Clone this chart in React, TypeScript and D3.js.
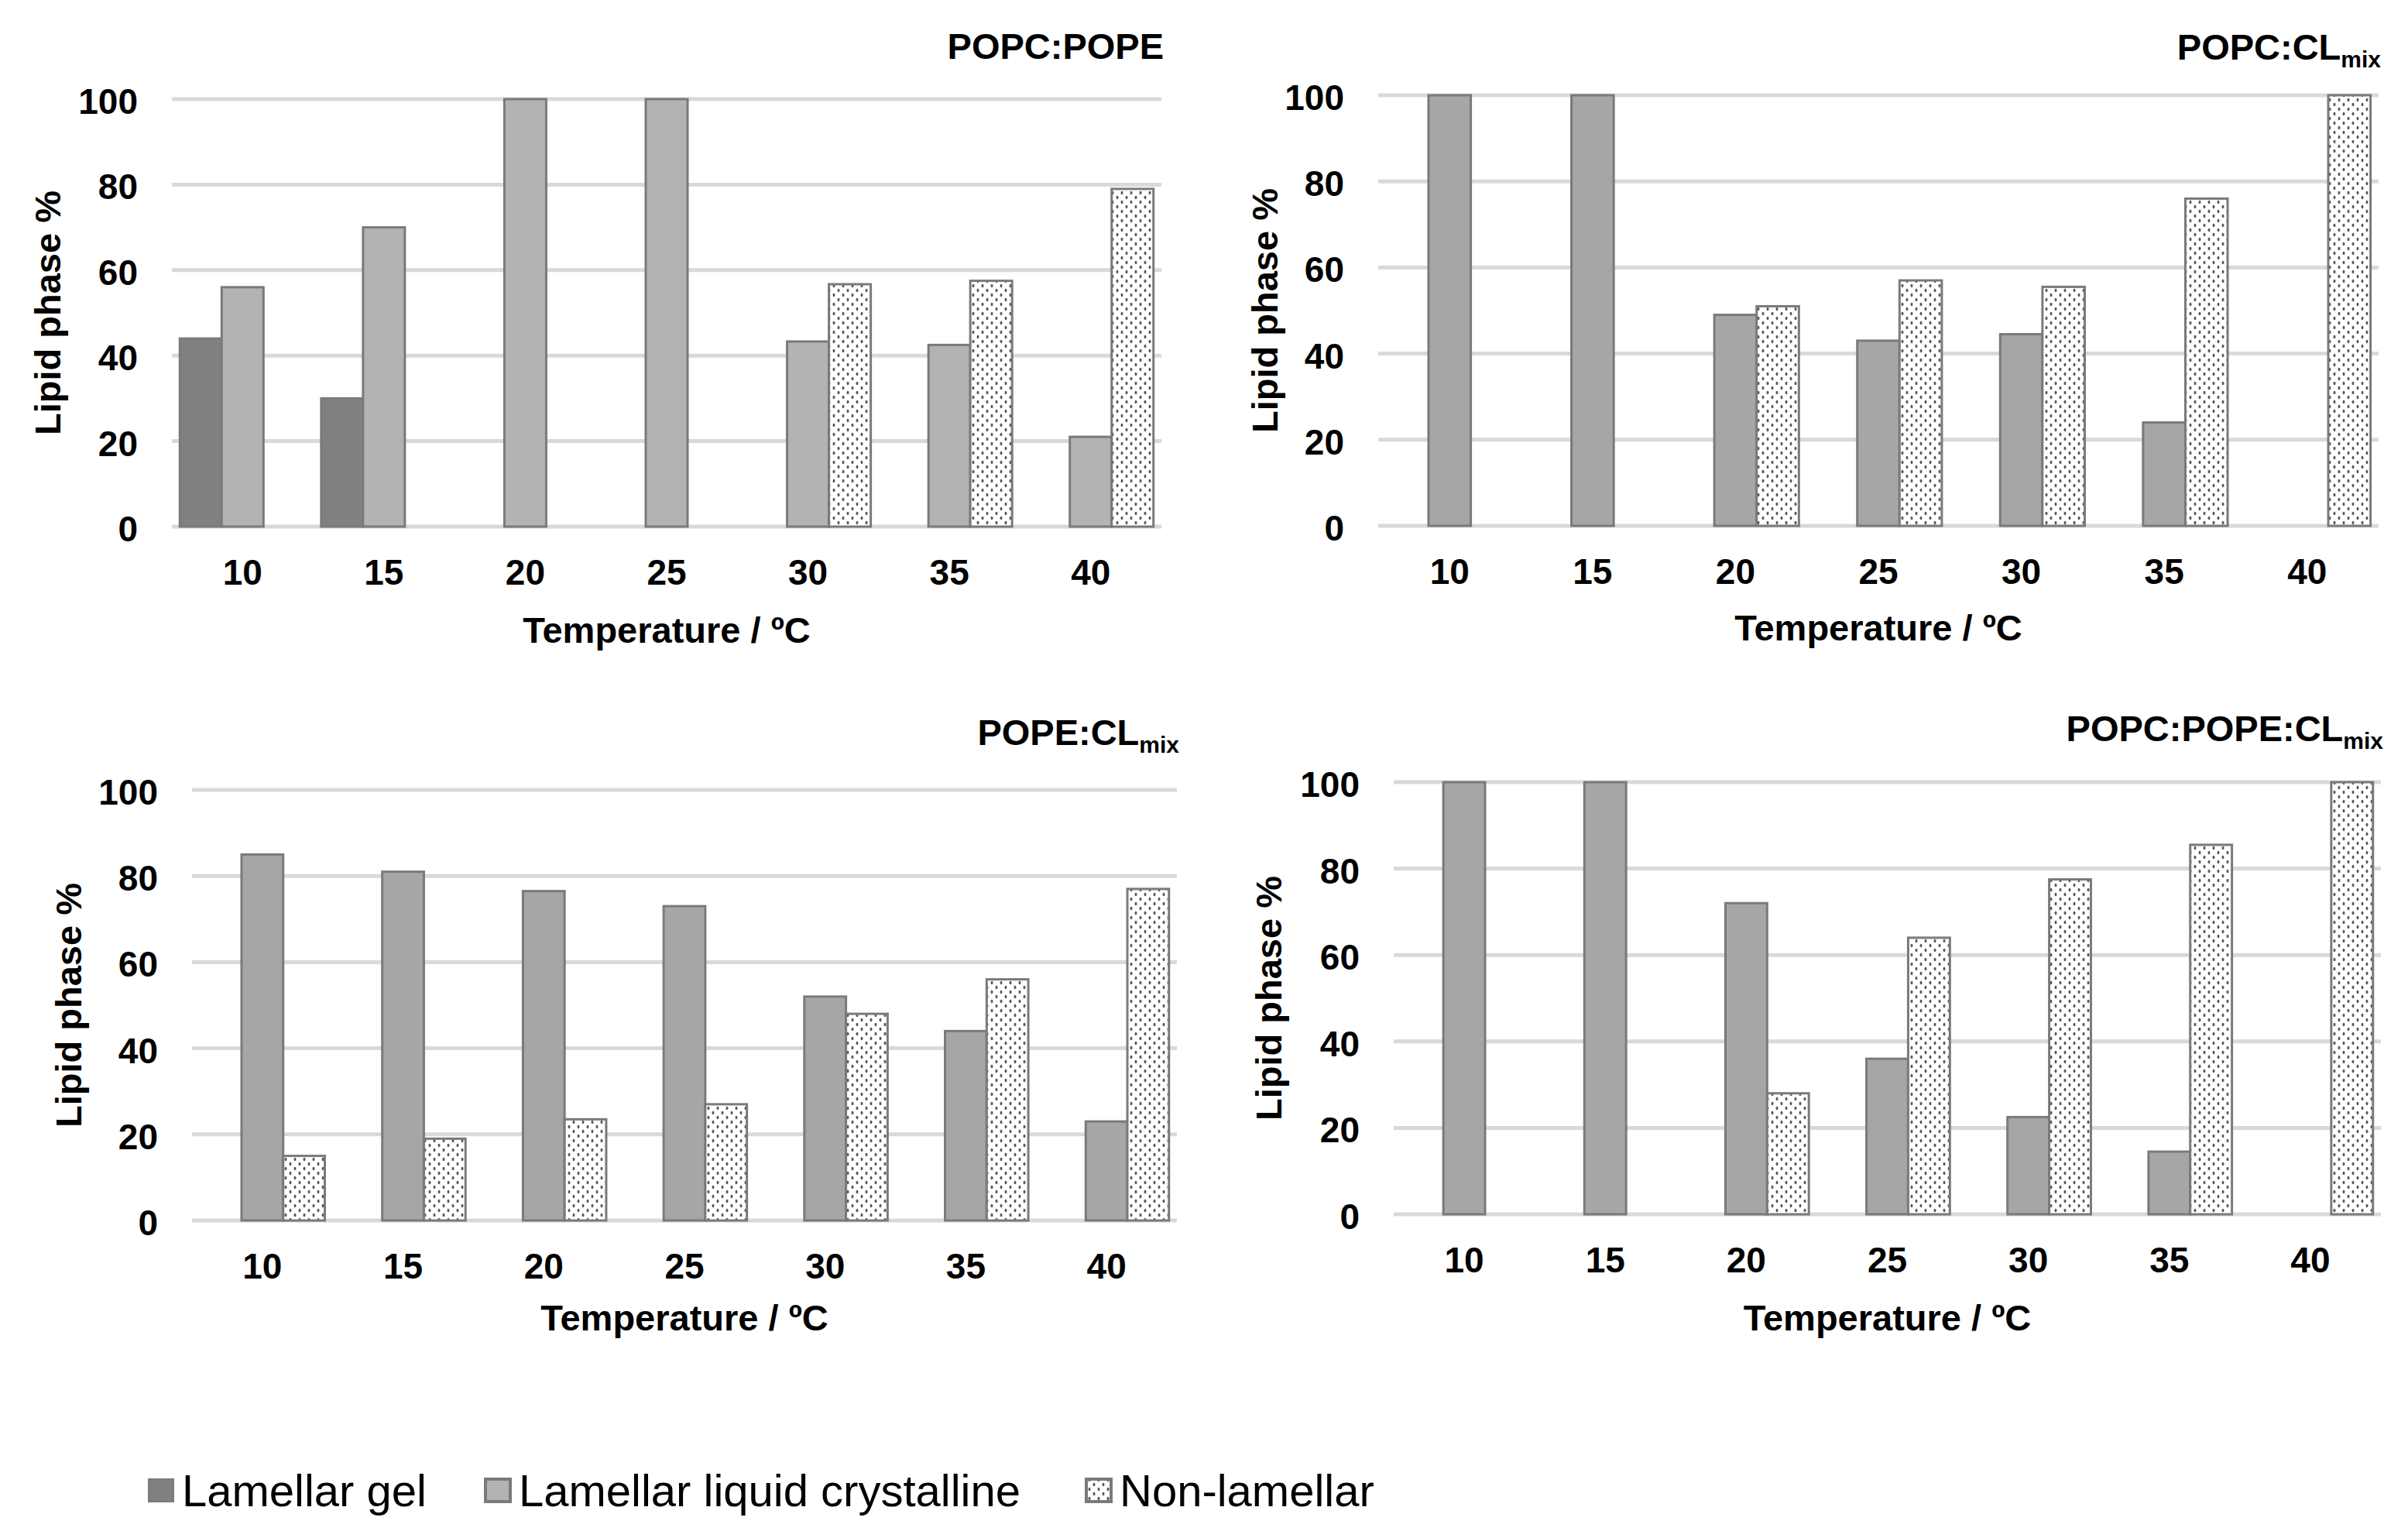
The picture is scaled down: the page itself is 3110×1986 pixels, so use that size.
import * as d3 from "d3";

const temps = ["10", "15", "20", "25", "30", "35", "40"];
const series = ["gel", "lc", "nl"];
const legendLabels = ["Lamellar gel", "Lamellar liquid crystalline", "Non-lamellar"];
const yTicks = [0, 20, 40, 60, 80, 100];

// POPC:POPE
const popcPopeGel = [44, 30, null, null, null, null, null];
const popcPopeLC = [56, 70, 100, 100, 43.3, 42.5, 21];
const popcPopeNL = [null, null, null, null, 56.7, 57.5, 79];

// POPC:CLmix
const popcClLC = [100, 100, 49, 43, 44.5, 24, null];
const popcClNL = [null, null, 51, 57, 55.5, 76, 100];

// POPE:CLmix
const popeClLC = [85, 81, 76.5, 73, 52, 44, 23];
const popeClNL = [15, 19, 23.5, 27, 48, 56, 77];

// POPC:POPE:CLmix
const allLC = [100, 100, 72, 36, 22.5, 14.5, null];
const allNL = [null, null, 28, 64, 77.5, 85.5, 100];

const FONT = "'Liberation Sans', Arial, sans-serif";

type PanelProps = {
  left: number;
  right: number;
  top: number;
  bottom: number;
  title: string;
  sub?: string;
  titleY: number;
  yTitleX: number;
  xTitleY: number;
  values: (number | null)[][];
  fills: string[];
};

const Panel = ({ left, right, top, bottom, title, sub, titleY, yTitleX, xTitleY, values, fills }: PanelProps) => {
  const x0 = d3.scaleBand().domain(temps).range([left, right]).padding(0);
  const x1 = d3
    .scaleBand()
    .domain(series)
    .range([0, x0.bandwidth()])
    .paddingInner(0)
    .paddingOuter(0.19);
  const y = d3.scaleLinear().domain([0, 100]).range([bottom, top]);

  return (
    <g>
      {yTicks.map((t) => (
        <g key={t}>
          <line x1={left} x2={right} y1={y(t)} y2={y(t)} stroke="#d9d9d9" strokeWidth={5} />
          <text
            x={left - 44}
            y={y(t) + 19}
            textAnchor="end"
            fontSize={46}
            fontWeight="bold"
            fontFamily={FONT}
          >
            {t}
          </text>
        </g>
      ))}
      {series.map((s, si) =>
        temps.map((tmp, ti) => {
          const v = values[si][ti];
          if (v == null) return null;
          return (
            <rect
              key={s + tmp}
              x={x0(tmp)! + x1(s)!}
              y={y(v)}
              width={x1.bandwidth()}
              height={y(0) - y(v)}
              fill={fills[si]}
              stroke="#7a7a7a"
              strokeWidth={3}
            />
          );
        })
      )}
      {temps.map((tmp) => (
        <text
          key={tmp}
          x={x0(tmp)! + x0.bandwidth() / 2}
          y={bottom + 75}
          textAnchor="middle"
          fontSize={46}
          fontWeight="bold"
          fontFamily={FONT}
        >
          {tmp}
        </text>
      ))}
      <text
        x={(left + right) / 2}
        y={xTitleY}
        textAnchor="middle"
        fontSize={47}
        fontWeight="bold"
        fontFamily={FONT}
      >
        Temperature / ºC
      </text>
      <text
        transform={`translate(${yTitleX},${(top + bottom) / 2}) rotate(-90)`}
        textAnchor="middle"
        fontSize={47}
        fontWeight="bold"
        fontFamily={FONT}
      >
        Lipid phase %
      </text>
      <text x={right + 3} y={titleY} textAnchor="end" fontSize={47} fontWeight="bold" fontFamily={FONT}>
        {title}
        {sub && (
          <tspan fontSize={30} dy={10}>
            {sub}
          </tspan>
        )}
      </text>
    </g>
  );
};

const App = () => {
  const dark = "#808080";
  const light = "#b3b3b3";
  const mid = "#a6a6a6";
  const dots = "url(#dots)";

  const legendX = [192, 627, 1403];

  return (
    <svg
      width={3110}
      height={1986}
      style={{ position: "absolute", left: 0, top: 0, background: "#fff" }}
    >
      <defs>
        <pattern id="dots" width={12} height={12} patternUnits="userSpaceOnUse">
          <rect width={12} height={12} fill="#fff" />
          <ellipse cx={3} cy={3} rx={1.5} ry={2.3} fill="#5a5a5a" />
          <ellipse cx={9} cy={9} rx={1.5} ry={2.3} fill="#5a5a5a" />
        </pattern>
      </defs>
      <rect width={3110} height={1986} fill="#fff" />

      <Panel
        left={222}
        right={1500}
        top={128}
        bottom={680}
        title="POPC:POPE"
        titleY={76}
        yTitleX={78}
        xTitleY={830}
        values={[popcPopeGel, popcPopeLC, popcPopeNL]}
        fills={[dark, light, dots]}
      />
      <Panel
        left={1780}
        right={3072}
        top={123}
        bottom={679}
        title="POPC:CL"
        sub="mix"
        titleY={77}
        yTitleX={1650}
        xTitleY={827}
        values={[[null, null, null, null, null, null, null], popcClLC, popcClNL]}
        fills={[dark, mid, dots]}
      />
      <Panel
        left={248}
        right={1520}
        top={1020}
        bottom={1576}
        title="POPE:CL"
        sub="mix"
        titleY={962}
        yTitleX={105}
        xTitleY={1718}
        values={[[null, null, null, null, null, null, null], popeClLC, popeClNL]}
        fills={[dark, mid, dots]}
      />
      <Panel
        left={1800}
        right={3075}
        top={1010}
        bottom={1568}
        title="POPC:POPE:CL"
        sub="mix"
        titleY={957}
        yTitleX={1655}
        xTitleY={1718}
        values={[[null, null, null, null, null, null, null], allLC, allNL]}
        fills={[dark, mid, dots]}
      />

      {legendLabels.map((lab, i) => (
        <g key={lab}>
          <rect
            x={legendX[i]}
            y={1910}
            width={32}
            height={29}
            fill={[dark, light, dots][i]}
            stroke="#7a7a7a"
            strokeWidth={i === 0 ? 2 : 4}
          />
          <text x={legendX[i] + 43} y={1945} fontSize={58} fontFamily={FONT}>
            {lab}
          </text>
        </g>
      ))}
    </svg>
  );
};

export default App;
